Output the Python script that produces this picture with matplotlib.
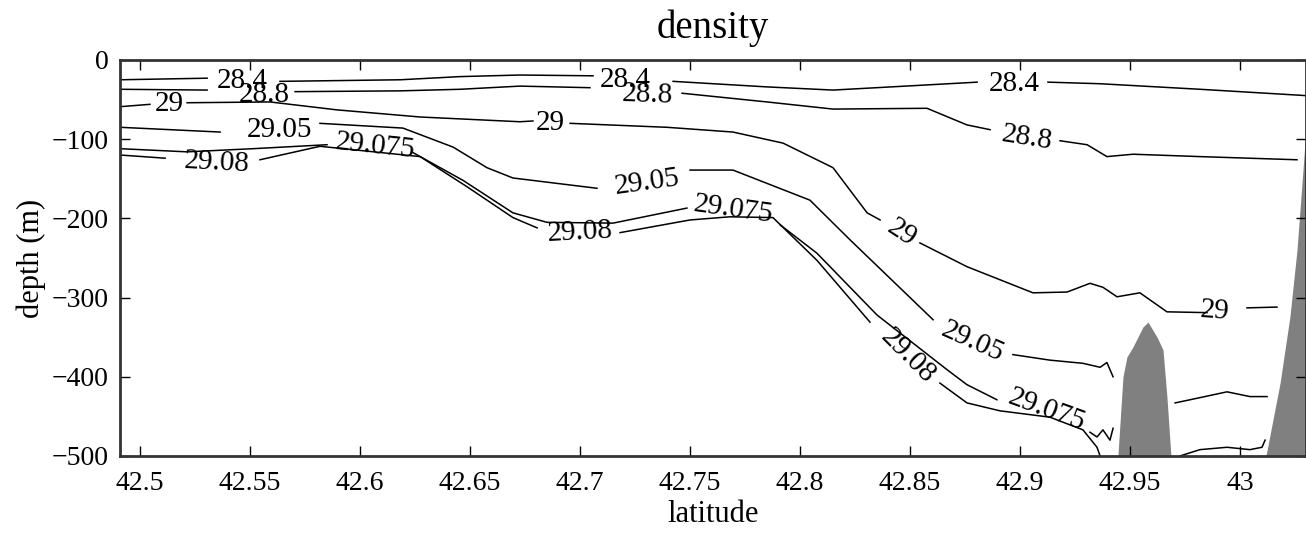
import numpy as np
from matplotlib import pyplot as plt

nan = np.nan

levels = [28.4, 28.8, 29, 29.05, 29.075, 29.08]

# isopycnal depths along the section (nan = break in the line for a label)
lat_284 = [42.4909, 42.5305, nan, 42.5636, 42.6182, 42.6455, 42.6727, 42.7059, nan,
           42.7423, 42.785, 42.815, 42.8545, 42.8805, nan,
           42.9127, 42.9364, 42.9818, 43.03]
dep_284 = [-25, -23, nan, -27, -25, -21, -19, -20, nan,
           -27, -34, -38, -32, -28, nan,
           -28, -30, -37, -45]

lat_288 = [42.4909, 42.5305, nan, 42.5705, 42.6182, 42.6455, 42.6727, 42.7045, nan,
           42.7464, 42.785, 42.815, 42.8577, 42.8759, 42.8864, nan,
           42.9182, 42.9305, 42.9395, 42.9514, 42.9818, 43.0259]
dep_288 = [-37, -38, nan, -40, -39, -37, -33, -35, nan,
           -42, -53, -62, -61, -82, -88, nan,
           -102, -107, -122, -119, -122, -126]

lat_290 = [42.4909, 42.5045, nan, 42.5214, 42.5591, 42.5895, 42.6273, 42.6727, 42.6786, nan,
           42.6955, 42.7395, 42.7695, 42.7923, 42.815, 42.8305, 42.8364, nan,
           42.8545, 42.8759, 42.9059, 42.9214, 42.9318, 42.9377, 42.9441, 42.9545,
           42.9668, 42.985, nan, 43.0032, 43.0168]
dep_290 = [-59, -56, nan, -54, -53, -63, -72, -78, -77, nan,
           -80, -85, -91, -105, -136, -193, -202, nan,
           -231, -261, -294, -293, -282, -287, -299, -294,
           -318, -319, nan, -313, -312]

lat_2905 = [42.4909, 42.5364, nan, 42.5818, 42.6195, 42.6423, 42.6577, 42.6695, 42.7077, nan,
            42.75, 42.7695, 42.8045, 42.8227, 42.8605, nan,
            42.8968, 42.9136, 42.9286, 42.9364, 42.9395, 42.9423]
dep_2905 = [-85, -91, nan, -80, -86, -110, -136, -149, -162, nan,
            -139, -139, -177, -227, -328, nan,
            -372, -379, -383, -388, -382, -400]

lat_29075 = [42.4909, 42.5214, 42.5514, 42.585, nan,
             42.6241, 42.6468, 42.6695, 42.685, 42.715, 42.7486, nan,
             42.7909, 42.8077, 42.835, 42.8668, 42.8759, 42.8895, nan,
             42.9318, 42.935, 42.9377, 42.9409, 42.9423, nan,
             42.9705, 42.9773, 42.9941, 43.0045, 43.0123]
dep_29075 = [-112, -116, -112, -107, nan,
             -117, -152, -193, -205, -206, -187, nan,
             -208, -244, -322, -391, -410, -429, nan,
             -470, -476, -467, -480, -465, nan,
             -433, -429, -419, -425, -425]

lat_2908 = [42.4909, 42.5114, nan,
            42.5545, 42.5818, 42.6273, 42.6486, 42.6695, 42.6805, nan,
            42.7182, 42.75, 42.7682, 42.7877, 42.8077, 42.8318, nan,
            42.8636, 42.8759, 42.8909, 42.9136, 42.9286, 42.935, 42.9364, nan,
            42.9727, 42.9818, 42.9941, 43.0045, 43.01, 43.0114]
dep_2908 = [-120, -124, nan,
            -126, -109, -122, -160, -199, -212, nan,
            -218, -202, -198, -199, -253, -331, nan,
            -408, -433, -443, -451, -467, -489, -500, nan,
            -500, -492, -489, -492, -489, -480]

# bottom topography
ridge_lat = [42.9445, 42.9468, 42.9486, 42.9514, 42.9559, 42.9582, 42.9623, 42.965, 42.9668, 42.9686]
ridge_dep = [-500, -400, -375, -362, -337, -331, -350, -366, -426, -500]
slope_lat = [43.0118, 43.0182, 43.0227, 43.0259, 43.0282, 43.03]
slope_dep = [-500, -408, -324, -240, -155, -86]

lines_lat = [lat_284, lat_288, lat_290, lat_2905, lat_29075, lat_2908]
lines_dep = [dep_284, dep_288, dep_290, dep_2905, dep_29075, dep_2908]

# inline label spots: (latitude, depth, rotation)
label_spots = {
    28.4: [(42.5464, -27, 0), (42.7205, -25, 0), (42.8973, -30, 0)],
    28.8: [(42.5564, -44, 0), (42.7305, -44, -2), (42.9032, -98, -9)],
    29: [(42.5132, -56, 0), (42.6864, -80, 0), (42.8464, -218, -33), (42.9886, -317, -4)],
    29.05: [(42.5632, -88, 0), (42.7305, -155, 8), (42.8786, -356, -24)],
    29.075: [(42.6068, -109, -6), (42.7695, -189, -8), (42.9123, -442, -20)],
    29.08: [(42.535, -130, -3), (42.7, -217, 3), (42.8491, -374, -45)],
}

plt.rcParams['font.family'] = ['Liberation Serif', 'DejaVu Serif']

fig = plt.figure(figsize=(13.06, 5.35), dpi=100)
ax = fig.add_axes([0.0919, 0.1477, 0.9081, 0.7402])

for lev, la, de in zip(levels, lines_lat, lines_dep):
    ax.plot(la, de, color='k', lw=1.1)
    for x, y, rot in label_spots[lev]:
        ax.text(x, y, '%g' % lev, fontsize=21, ha='center', va='center',
                rotation=rot, rotation_mode='anchor')

ax.fill_between(ridge_lat, ridge_dep, -500, color='0.5', lw=0)
ax.fill_between(slope_lat, slope_dep, -500, color='0.5', lw=0)

ax.set_xlim(42.4909, 43.03)
ax.set_ylim(-500, 0)
ax.set_xticks([42.5, 42.55, 42.6, 42.65, 42.7, 42.75, 42.8, 42.85, 42.9, 42.95, 43])
ax.set_xticklabels(['42.5', '42.55', '42.6', '42.65', '42.7', '42.75', '42.8',
                    '42.85', '42.9', '42.95', '43'])
ax.set_yticks([-500, -400, -300, -200, -100, 0])

ax.tick_params(direction='in', length=7, width=1, top=True, right=True,
               labelsize=20)
ax.tick_params(axis='x', pad=11)
ax.tick_params(axis='y', pad=8)
for sp in ax.spines.values():
    sp.set_linewidth(2)
    sp.set_color('0.2')

ax.set_title('density', fontsize=28, pad=16)
ax.set_xlabel('latitude', fontsize=22, labelpad=3)
ax.set_ylabel('depth (m)', fontsize=22, labelpad=4)

plt.savefig('out.png', dpi=100)
